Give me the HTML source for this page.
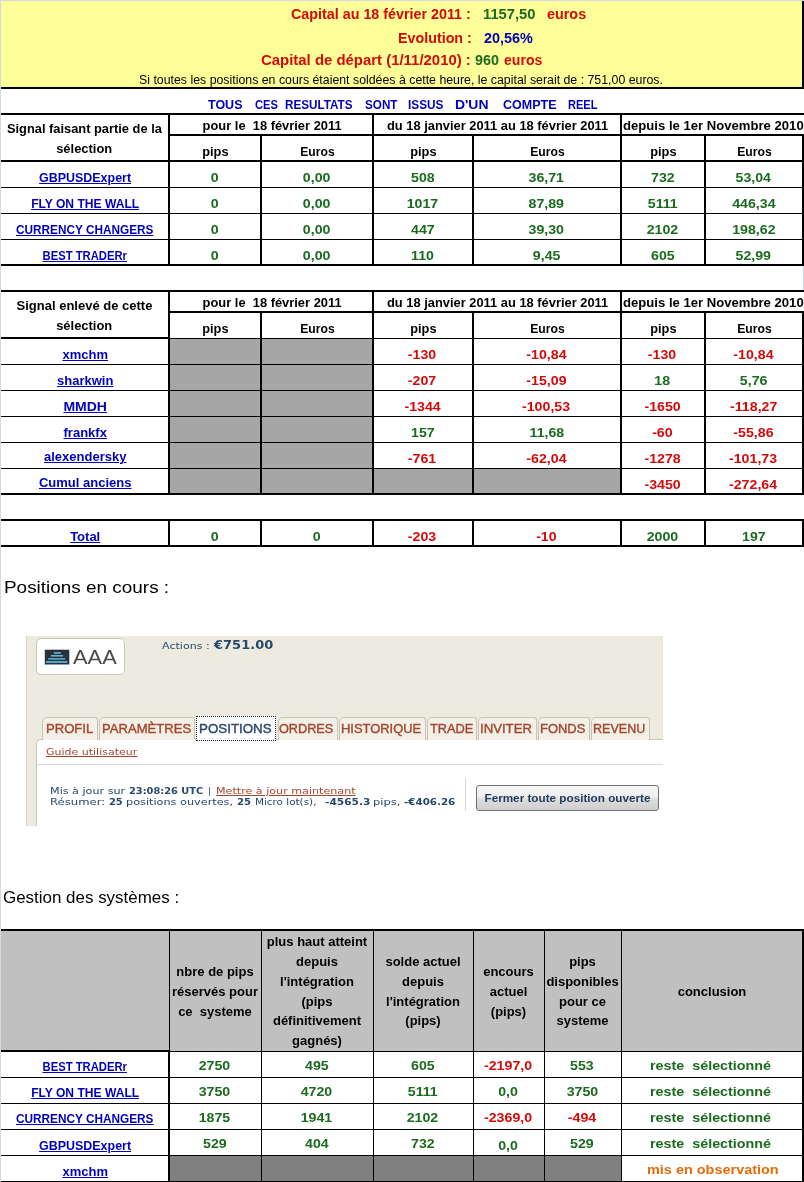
<!DOCTYPE html>
<html lang="fr"><head><meta charset="utf-8"><title>Résultats signaux</title>
<style>
html,body{margin:0;padding:0;background:#fff}
#pg{position:relative;width:804px;height:1182px;overflow:hidden;background:#fff}
#pg i{position:absolute;display:block}
#pg b,#pg a,#pg span.t{position:absolute;white-space:pre;display:block;font-style:normal}
</style></head><body><div id="pg">
<i style="left:0px;top:0px;width:804px;height:1px;background:#D0D7E5"></i>
<i style="left:0px;top:0px;width:1px;height:1182px;background:#D0D7E5"></i>
<i style="left:803px;top:266px;width:1px;height:24px;background:#D0D7E5"></i>
<i style="left:1px;top:1px;width:801px;height:86px;background:#FFFF99"></i>
<i style="left:1px;top:87px;width:803px;height:2px;background:#000"></i>
<i style="left:802px;top:1px;width:2px;height:88px;background:#000"></i>
<i style="left:1px;top:113px;width:803px;height:2px;background:#000"></i>
<i style="left:168px;top:134px;width:636px;height:2px;background:#000"></i>
<i style="left:1px;top:160px;width:803px;height:2px;background:#000"></i>
<i style="left:1px;top:187px;width:803px;height:1px;background:#000"></i>
<i style="left:1px;top:213px;width:803px;height:1px;background:#000"></i>
<i style="left:1px;top:239px;width:803px;height:1px;background:#000"></i>
<i style="left:1px;top:264px;width:803px;height:2px;background:#000"></i>
<i style="left:168px;top:113px;width:2px;height:153px;background:#000"></i>
<i style="left:260px;top:134px;width:2px;height:132px;background:#000"></i>
<i style="left:372px;top:113px;width:2px;height:153px;background:#000"></i>
<i style="left:472px;top:134px;width:2px;height:132px;background:#000"></i>
<i style="left:620px;top:113px;width:2px;height:153px;background:#000"></i>
<i style="left:704px;top:134px;width:2px;height:132px;background:#000"></i>
<i style="left:802px;top:134px;width:2px;height:132px;background:#000"></i>
<i style="left:1px;top:290px;width:803px;height:2px;background:#000"></i>
<i style="left:168px;top:311px;width:636px;height:2px;background:#000"></i>
<i style="left:1px;top:337px;width:169px;height:2px;background:#000"></i>
<i style="left:170px;top:338px;width:634px;height:1px;background:#000"></i>
<i style="left:1px;top:364px;width:803px;height:1px;background:#000"></i>
<i style="left:1px;top:390px;width:803px;height:1px;background:#000"></i>
<i style="left:1px;top:416px;width:803px;height:1px;background:#000"></i>
<i style="left:1px;top:442px;width:803px;height:1px;background:#000"></i>
<i style="left:1px;top:468px;width:803px;height:1px;background:#000"></i>
<i style="left:1px;top:493px;width:803px;height:2px;background:#000"></i>
<i style="left:168px;top:290px;width:2px;height:205px;background:#000"></i>
<i style="left:260px;top:311px;width:2px;height:184px;background:#000"></i>
<i style="left:372px;top:290px;width:2px;height:205px;background:#000"></i>
<i style="left:472px;top:311px;width:2px;height:184px;background:#000"></i>
<i style="left:620px;top:290px;width:2px;height:205px;background:#000"></i>
<i style="left:704px;top:311px;width:2px;height:184px;background:#000"></i>
<i style="left:802px;top:311px;width:2px;height:184px;background:#000"></i>
<i style="left:170px;top:339px;width:90px;height:25px;background:#A6A6A6"></i>
<i style="left:262px;top:339px;width:110px;height:25px;background:#A6A6A6"></i>
<i style="left:170px;top:365px;width:90px;height:25px;background:#A6A6A6"></i>
<i style="left:262px;top:365px;width:110px;height:25px;background:#A6A6A6"></i>
<i style="left:170px;top:391px;width:90px;height:25px;background:#A6A6A6"></i>
<i style="left:262px;top:391px;width:110px;height:25px;background:#A6A6A6"></i>
<i style="left:170px;top:417px;width:90px;height:25px;background:#A6A6A6"></i>
<i style="left:262px;top:417px;width:110px;height:25px;background:#A6A6A6"></i>
<i style="left:170px;top:443px;width:90px;height:25px;background:#A6A6A6"></i>
<i style="left:262px;top:443px;width:110px;height:25px;background:#A6A6A6"></i>
<i style="left:170px;top:469px;width:90px;height:24px;background:#A6A6A6"></i>
<i style="left:262px;top:469px;width:110px;height:24px;background:#A6A6A6"></i>
<i style="left:374px;top:469px;width:98px;height:24px;background:#A6A6A6"></i>
<i style="left:474px;top:469px;width:146px;height:24px;background:#A6A6A6"></i>
<i style="left:1px;top:519px;width:803px;height:2px;background:#000"></i>
<i style="left:1px;top:545px;width:803px;height:2px;background:#000"></i>
<i style="left:168px;top:519px;width:2px;height:28px;background:#000"></i>
<i style="left:260px;top:519px;width:2px;height:28px;background:#000"></i>
<i style="left:372px;top:519px;width:2px;height:28px;background:#000"></i>
<i style="left:472px;top:519px;width:2px;height:28px;background:#000"></i>
<i style="left:620px;top:519px;width:2px;height:28px;background:#000"></i>
<i style="left:704px;top:519px;width:2px;height:28px;background:#000"></i>
<i style="left:802px;top:519px;width:2px;height:28px;background:#000"></i>
<i style="left:1px;top:931px;width:801px;height:120px;background:#C0C0C0"></i>
<i style="left:1px;top:929px;width:803px;height:2px;background:#000"></i>
<i style="left:1px;top:1050px;width:169px;height:2px;background:#000"></i>
<i style="left:170px;top:1051px;width:634px;height:1px;background:#000"></i>
<i style="left:1px;top:1077px;width:803px;height:1px;background:#000"></i>
<i style="left:1px;top:1103px;width:803px;height:1px;background:#000"></i>
<i style="left:1px;top:1129px;width:803px;height:1px;background:#000"></i>
<i style="left:1px;top:1155px;width:803px;height:1px;background:#000"></i>
<i style="left:1px;top:1181px;width:803px;height:1px;background:#000"></i>
<i style="left:170px;top:1156px;width:91px;height:25px;background:#808080"></i>
<i style="left:262px;top:1156px;width:111px;height:25px;background:#808080"></i>
<i style="left:374px;top:1156px;width:99px;height:25px;background:#808080"></i>
<i style="left:474px;top:1156px;width:70px;height:25px;background:#808080"></i>
<i style="left:545px;top:1156px;width:76px;height:25px;background:#808080"></i>
<i style="left:169px;top:931px;width:1px;height:119px;background:#000"></i>
<i style="left:168px;top:1050px;width:2px;height:132px;background:#000"></i>
<i style="left:261px;top:931px;width:1px;height:251px;background:#000"></i>
<i style="left:373px;top:931px;width:1px;height:251px;background:#000"></i>
<i style="left:473px;top:931px;width:1px;height:251px;background:#000"></i>
<i style="left:544px;top:931px;width:1px;height:251px;background:#000"></i>
<i style="left:621px;top:931px;width:1px;height:251px;background:#000"></i>
<i style="left:802px;top:929px;width:2px;height:253px;background:#000"></i>
<div style="position:absolute;left:26px;top:636px;width:637px;height:104px;background:#EDEBE0"></div>
<div style="position:absolute;left:26px;top:636px;width:1px;height:190px;background:#D9D6C8"></div>
<div style="position:absolute;left:27px;top:740px;width:10px;height:86px;background:#EDEBE0"></div>
<div style="position:absolute;left:36px;top:638px;width:87px;height:35px;background:#fff;border:1px solid #C9C6B6;border-radius:5px"></div>
<svg style="position:absolute;left:44px;top:649px" width="27" height="17" viewBox="0 0 27 17"><rect x="0.8" y="0.7" width="24.5" height="14.8" fill="#2B3138"/><rect x="9.8" y="3.2" width="7.1" height="1.5" fill="#6FC0E6"/><rect x="6.9" y="6.0" width="12.2" height="1.6" fill="#62B5DD"/><rect x="4.2" y="9.1" width="17.1" height="1.6" fill="#5AAED8"/><rect x="1.9" y="12.0" width="21.5" height="1.9" fill="#58ABD5"/></svg>
<div style="position:absolute;left:36px;top:739px;width:626px;height:86px;background:#fff;border:1px solid #C9C6B6;border-right:none;border-bottom:none;border-radius:5px 0 0 0"></div>
<div style="position:absolute;left:37px;top:764px;width:626px;height:1px;background:#D8D8D8"></div>
<div style="position:absolute;left:465px;top:778px;width:1px;height:33px;background:#D8D8D8"></div>
<div style="position:absolute;left:42px;top:717px;width:53.6px;height:22px;background:#F2F0E7;border:1px solid #C9C6B6;border-bottom:none;border-radius:5px 3px 0 0"></div>
<div style="position:absolute;left:98.8px;top:717px;width:94.2px;height:22px;background:#F2F0E7;border:1px solid #C9C6B6;border-bottom:none;border-radius:5px 3px 0 0"></div>
<div style="position:absolute;left:195.5px;top:716px;width:78.5px;height:23px;background:#fff;border:1px dotted #1E2F45"></div>
<div style="position:absolute;left:277.5px;top:717px;width:58.2px;height:22px;background:#F2F0E7;border:1px solid #C9C6B6;border-bottom:none;border-radius:5px 3px 0 0"></div>
<div style="position:absolute;left:338.7px;top:717px;width:85.1px;height:22px;background:#F2F0E7;border:1px solid #C9C6B6;border-bottom:none;border-radius:5px 3px 0 0"></div>
<div style="position:absolute;left:427px;top:717px;width:47.8px;height:22px;background:#F2F0E7;border:1px solid #C9C6B6;border-bottom:none;border-radius:5px 3px 0 0"></div>
<div style="position:absolute;left:478px;top:717px;width:56.7px;height:22px;background:#F2F0E7;border:1px solid #C9C6B6;border-bottom:none;border-radius:5px 3px 0 0"></div>
<div style="position:absolute;left:537.9px;top:717px;width:50.0px;height:22px;background:#F2F0E7;border:1px solid #C9C6B6;border-bottom:none;border-radius:5px 3px 0 0"></div>
<div style="position:absolute;left:591.1px;top:717px;width:57.2px;height:22px;background:#F2F0E7;border:1px solid #C9C6B6;border-bottom:none;border-radius:5px 3px 0 0"></div>
<div style="position:absolute;left:476px;top:785px;width:181px;height:24px;border:1px solid #707070;border-radius:3px;background:linear-gradient(#F7F7F7 0%,#EDEDED 45%,#DCDCDC 55%,#CFCFCF 100%)"></div>
<span class="t" style="font:bold 14px/14px 'Liberation Sans', sans-serif;color:#D40A0A;top:6.95px;left:290.52px;transform:scaleX(1.0224);transform-origin:0 50%">Capital au 18 février 2011 :</span>
<span class="t" style="font:bold 14px/14px 'Liberation Sans', sans-serif;color:#1A6B1E;top:6.95px;left:483.22px;transform:scaleX(1.0537);transform-origin:0 50%">1157,50</span>
<span class="t" style="font:bold 14px/14px 'Liberation Sans', sans-serif;color:#D40A0A;top:6.95px;left:546.52px;transform:scaleX(1.0261);transform-origin:0 50%">euros</span>
<span class="t" style="font:bold 14px/14px 'Liberation Sans', sans-serif;color:#D40A0A;top:31.15px;left:397.52px;transform:scaleX(1.0206);transform-origin:0 50%">Evolution :</span>
<span class="t" style="font:bold 14px/14px 'Liberation Sans', sans-serif;color:#0000BB;top:31.15px;left:484.42px;transform:scaleX(1.0302);transform-origin:0 50%">20,56%</span>
<span class="t" style="font:bold 14px/14px 'Liberation Sans', sans-serif;color:#D40A0A;top:53.35px;left:261.02px;transform:scaleX(1.0658);transform-origin:0 50%">Capital de départ (1/11/2010) :</span>
<span class="t" style="font:bold 14px/14px 'Liberation Sans', sans-serif;color:#1A6B1E;top:53.35px;left:475.42px;transform:scaleX(1.0240);transform-origin:0 50%">960</span>
<span class="t" style="font:bold 14px/14px 'Liberation Sans', sans-serif;color:#D40A0A;top:53.35px;left:504.02px;transform:scaleX(1.0051);transform-origin:0 50%">euros</span>
<span class="t" style="font:normal 12px/12px 'Liberation Sans', sans-serif;color:#000;top:73.84px;left:139.16px;transform:scaleX(1.0281);transform-origin:0 50%">Si toutes les positions en cours étaient soldées à cette heure, le capital serait de : 751,00 euros.</span>
<span class="t" style="font:bold 13px/13px 'Liberation Sans', sans-serif;color:#0000BB;top:97.80px;left:208.29px;transform:scaleX(0.9610);transform-origin:0 50%">TOUS</span>
<span class="t" style="font:bold 13px/13px 'Liberation Sans', sans-serif;color:#0000BB;top:97.80px;left:254.79px;transform:scaleX(0.8599);transform-origin:0 50%">CES</span>
<span class="t" style="font:bold 13px/13px 'Liberation Sans', sans-serif;color:#0000BB;top:97.80px;left:285.29px;transform:scaleX(0.8986);transform-origin:0 50%">RESULTATS</span>
<span class="t" style="font:bold 13px/13px 'Liberation Sans', sans-serif;color:#0000BB;top:97.80px;left:365.29px;transform:scaleX(0.8994);transform-origin:0 50%">SONT</span>
<span class="t" style="font:bold 13px/13px 'Liberation Sans', sans-serif;color:#0000BB;top:97.80px;left:408.29px;transform:scaleX(0.9096);transform-origin:0 50%">ISSUS</span>
<span class="t" style="font:bold 13px/13px 'Liberation Sans', sans-serif;color:#0000BB;top:97.80px;left:455.29px;transform:scaleX(1.0711);transform-origin:0 50%">D&#x27;UN</span>
<span class="t" style="font:bold 13px/13px 'Liberation Sans', sans-serif;color:#0000BB;top:97.80px;left:503.29px;transform:scaleX(0.9616);transform-origin:0 50%">COMPTE</span>
<span class="t" style="font:bold 13px/13px 'Liberation Sans', sans-serif;color:#0000BB;top:97.80px;left:568.29px;transform:scaleX(0.8505);transform-origin:0 50%">REEL</span>
<span class="t" style="font:bold 13px/13px 'Liberation Sans', sans-serif;color:#000;top:122.00px;left:6.11px;transform:scaleX(0.9886);transform-origin:50% 50%">Signal faisant partie de la</span>
<span class="t" style="font:bold 13px/13px 'Liberation Sans', sans-serif;color:#000;top:142.00px;left:56.32px;transform:scaleX(0.9936);transform-origin:50% 50%">sélection</span>
<span class="t" style="font:bold 13px/13px 'Liberation Sans', sans-serif;color:#000;top:119.40px;left:201.80px;transform:scaleX(0.9914);transform-origin:50% 50%">pour le  18 février 2011</span>
<span class="t" style="font:bold 13px/13px 'Liberation Sans', sans-serif;color:#000;top:119.40px;left:386.89px;transform:scaleX(0.9904);transform-origin:0 50%">du 18 janvier 2011 au 18 février 2011</span>
<span class="t" style="font:bold 13px/13px 'Liberation Sans', sans-serif;color:#000;top:119.40px;left:623.49px;transform:scaleX(1.0083);transform-origin:0 50%">depuis le 1er Novembre 2010</span>
<span class="t" style="font:bold 13px/13px 'Liberation Sans', sans-serif;color:#000;top:145.00px;left:202.03px;transform:scaleX(0.9838);transform-origin:50% 50%">pips</span>
<span class="t" style="font:bold 13px/13px 'Liberation Sans', sans-serif;color:#000;top:145.00px;left:298.98px;transform:scaleX(0.9364);transform-origin:50% 50%">Euros</span>
<span class="t" style="font:bold 13px/13px 'Liberation Sans', sans-serif;color:#000;top:145.00px;left:410.03px;transform:scaleX(0.9838);transform-origin:50% 50%">pips</span>
<span class="t" style="font:bold 13px/13px 'Liberation Sans', sans-serif;color:#000;top:145.00px;left:528.98px;transform:scaleX(0.9364);transform-origin:50% 50%">Euros</span>
<span class="t" style="font:bold 13px/13px 'Liberation Sans', sans-serif;color:#000;top:145.00px;left:650.03px;transform:scaleX(0.9838);transform-origin:50% 50%">pips</span>
<span class="t" style="font:bold 13px/13px 'Liberation Sans', sans-serif;color:#000;top:145.00px;left:735.98px;transform:scaleX(0.9364);transform-origin:50% 50%">Euros</span>
<a style="font:bold 13px/13px 'Liberation Sans', sans-serif;color:#0000BB;top:170.60px;text-decoration:underline;left:37.16px;transform:scaleX(0.9576);transform-origin:50% 50%">GBPUSDExpert</a>
<span class="t" style="font:bold 13px/13px 'Liberation Sans', sans-serif;color:#1A6B1E;top:170.60px;left:210.88px;transform:scaleX(1.0900);transform-origin:50% 50%">0</span>
<span class="t" style="font:bold 13px/13px 'Liberation Sans', sans-serif;color:#1A6B1E;top:170.60px;left:303.84px;transform:scaleX(1.0900);transform-origin:50% 50%">0,00</span>
<span class="t" style="font:bold 13px/13px 'Liberation Sans', sans-serif;color:#1A6B1E;top:170.60px;left:411.65px;transform:scaleX(1.0900);transform-origin:50% 50%">508</span>
<span class="t" style="font:bold 13px/13px 'Liberation Sans', sans-serif;color:#1A6B1E;top:170.60px;left:530.23px;transform:scaleX(1.0900);transform-origin:50% 50%">36,71</span>
<span class="t" style="font:bold 13px/13px 'Liberation Sans', sans-serif;color:#1A6B1E;top:170.60px;left:651.65px;transform:scaleX(1.0900);transform-origin:50% 50%">732</span>
<span class="t" style="font:bold 13px/13px 'Liberation Sans', sans-serif;color:#1A6B1E;top:170.60px;left:737.23px;transform:scaleX(1.0900);transform-origin:50% 50%">53,04</span>
<a style="font:bold 13px/13px 'Liberation Sans', sans-serif;color:#0000BB;top:196.60px;text-decoration:underline;left:27.05px;transform:scaleX(0.9287);transform-origin:50% 50%">FLY ON THE WALL</a>
<span class="t" style="font:bold 13px/13px 'Liberation Sans', sans-serif;color:#1A6B1E;top:196.60px;left:210.88px;transform:scaleX(1.0900);transform-origin:50% 50%">0</span>
<span class="t" style="font:bold 13px/13px 'Liberation Sans', sans-serif;color:#1A6B1E;top:196.60px;left:303.84px;transform:scaleX(1.0900);transform-origin:50% 50%">0,00</span>
<span class="t" style="font:bold 13px/13px 'Liberation Sans', sans-serif;color:#1A6B1E;top:196.60px;left:408.04px;transform:scaleX(1.0900);transform-origin:50% 50%">1017</span>
<span class="t" style="font:bold 13px/13px 'Liberation Sans', sans-serif;color:#1A6B1E;top:196.60px;left:530.23px;transform:scaleX(1.0900);transform-origin:50% 50%">87,89</span>
<span class="t" style="font:bold 13px/13px 'Liberation Sans', sans-serif;color:#1A6B1E;top:196.60px;left:648.75px;transform:scaleX(1.0900);transform-origin:50% 50%">5111</span>
<span class="t" style="font:bold 13px/13px 'Liberation Sans', sans-serif;color:#1A6B1E;top:196.60px;left:733.62px;transform:scaleX(1.0900);transform-origin:50% 50%">446,34</span>
<a style="font:bold 13px/13px 'Liberation Sans', sans-serif;color:#0000BB;top:222.60px;text-decoration:underline;left:9.47px;transform:scaleX(0.9079);transform-origin:50% 50%">CURRENCY CHANGERS</a>
<span class="t" style="font:bold 13px/13px 'Liberation Sans', sans-serif;color:#1A6B1E;top:222.60px;left:210.88px;transform:scaleX(1.0900);transform-origin:50% 50%">0</span>
<span class="t" style="font:bold 13px/13px 'Liberation Sans', sans-serif;color:#1A6B1E;top:222.60px;left:303.84px;transform:scaleX(1.0900);transform-origin:50% 50%">0,00</span>
<span class="t" style="font:bold 13px/13px 'Liberation Sans', sans-serif;color:#1A6B1E;top:222.60px;left:411.65px;transform:scaleX(1.0900);transform-origin:50% 50%">447</span>
<span class="t" style="font:bold 13px/13px 'Liberation Sans', sans-serif;color:#1A6B1E;top:222.60px;left:530.23px;transform:scaleX(1.0900);transform-origin:50% 50%">39,30</span>
<span class="t" style="font:bold 13px/13px 'Liberation Sans', sans-serif;color:#1A6B1E;top:222.60px;left:648.04px;transform:scaleX(1.0900);transform-origin:50% 50%">2102</span>
<span class="t" style="font:bold 13px/13px 'Liberation Sans', sans-serif;color:#1A6B1E;top:222.60px;left:733.62px;transform:scaleX(1.0900);transform-origin:50% 50%">198,62</span>
<a style="font:bold 13px/13px 'Liberation Sans', sans-serif;color:#0000BB;top:248.60px;text-decoration:underline;left:36.44px;transform:scaleX(0.8665);transform-origin:50% 50%">BEST TRADERr</a>
<span class="t" style="font:bold 13px/13px 'Liberation Sans', sans-serif;color:#1A6B1E;top:248.60px;left:210.88px;transform:scaleX(1.0900);transform-origin:50% 50%">0</span>
<span class="t" style="font:bold 13px/13px 'Liberation Sans', sans-serif;color:#1A6B1E;top:248.60px;left:303.84px;transform:scaleX(1.0900);transform-origin:50% 50%">0,00</span>
<span class="t" style="font:bold 13px/13px 'Liberation Sans', sans-serif;color:#1A6B1E;top:248.60px;left:412.01px;transform:scaleX(1.0900);transform-origin:50% 50%">110</span>
<span class="t" style="font:bold 13px/13px 'Liberation Sans', sans-serif;color:#1A6B1E;top:248.60px;left:533.84px;transform:scaleX(1.0900);transform-origin:50% 50%">9,45</span>
<span class="t" style="font:bold 13px/13px 'Liberation Sans', sans-serif;color:#1A6B1E;top:248.60px;left:651.65px;transform:scaleX(1.0900);transform-origin:50% 50%">605</span>
<span class="t" style="font:bold 13px/13px 'Liberation Sans', sans-serif;color:#1A6B1E;top:248.60px;left:737.23px;transform:scaleX(1.0900);transform-origin:50% 50%">52,99</span>
<span class="t" style="font:bold 13px/13px 'Liberation Sans', sans-serif;color:#000;top:299.00px;left:16.58px">Signal enlevé de cette</span>
<span class="t" style="font:bold 13px/13px 'Liberation Sans', sans-serif;color:#000;top:319.00px;left:56.32px;transform:scaleX(0.9936);transform-origin:50% 50%">sélection</span>
<span class="t" style="font:bold 13px/13px 'Liberation Sans', sans-serif;color:#000;top:296.40px;left:201.80px;transform:scaleX(0.9914);transform-origin:50% 50%">pour le  18 février 2011</span>
<span class="t" style="font:bold 13px/13px 'Liberation Sans', sans-serif;color:#000;top:296.40px;left:386.89px;transform:scaleX(0.9904);transform-origin:0 50%">du 18 janvier 2011 au 18 février 2011</span>
<span class="t" style="font:bold 13px/13px 'Liberation Sans', sans-serif;color:#000;top:296.40px;left:623.49px;transform:scaleX(1.0083);transform-origin:0 50%">depuis le 1er Novembre 2010</span>
<span class="t" style="font:bold 13px/13px 'Liberation Sans', sans-serif;color:#000;top:322.00px;left:202.03px;transform:scaleX(0.9838);transform-origin:50% 50%">pips</span>
<span class="t" style="font:bold 13px/13px 'Liberation Sans', sans-serif;color:#000;top:322.00px;left:298.98px;transform:scaleX(0.9364);transform-origin:50% 50%">Euros</span>
<span class="t" style="font:bold 13px/13px 'Liberation Sans', sans-serif;color:#000;top:322.00px;left:410.03px;transform:scaleX(0.9838);transform-origin:50% 50%">pips</span>
<span class="t" style="font:bold 13px/13px 'Liberation Sans', sans-serif;color:#000;top:322.00px;left:528.98px;transform:scaleX(0.9364);transform-origin:50% 50%">Euros</span>
<span class="t" style="font:bold 13px/13px 'Liberation Sans', sans-serif;color:#000;top:322.00px;left:650.03px;transform:scaleX(0.9838);transform-origin:50% 50%">pips</span>
<span class="t" style="font:bold 13px/13px 'Liberation Sans', sans-serif;color:#000;top:322.00px;left:735.98px;transform:scaleX(0.9364);transform-origin:50% 50%">Euros</span>
<a style="font:bold 13px/13px 'Liberation Sans', sans-serif;color:#0000BB;top:347.60px;text-decoration:underline;left:62.43px">xmchm</a>
<span class="t" style="font:bold 13px/13px 'Liberation Sans', sans-serif;color:#D40A0A;top:347.60px;left:409.48px;transform:scaleX(1.0900);transform-origin:50% 50%">-130</span>
<span class="t" style="font:bold 13px/13px 'Liberation Sans', sans-serif;color:#D40A0A;top:347.60px;left:528.06px;transform:scaleX(1.0900);transform-origin:50% 50%">-10,84</span>
<span class="t" style="font:bold 13px/13px 'Liberation Sans', sans-serif;color:#D40A0A;top:347.60px;left:649.48px;transform:scaleX(1.0900);transform-origin:50% 50%">-130</span>
<span class="t" style="font:bold 13px/13px 'Liberation Sans', sans-serif;color:#D40A0A;top:347.60px;left:735.06px;transform:scaleX(1.0900);transform-origin:50% 50%">-10,84</span>
<a style="font:bold 13px/13px 'Liberation Sans', sans-serif;color:#0000BB;top:373.60px;text-decoration:underline;left:57.02px">sharkwin</a>
<span class="t" style="font:bold 13px/13px 'Liberation Sans', sans-serif;color:#D40A0A;top:373.60px;left:409.48px;transform:scaleX(1.0900);transform-origin:50% 50%">-207</span>
<span class="t" style="font:bold 13px/13px 'Liberation Sans', sans-serif;color:#D40A0A;top:373.60px;left:528.06px;transform:scaleX(1.0900);transform-origin:50% 50%">-15,09</span>
<span class="t" style="font:bold 13px/13px 'Liberation Sans', sans-serif;color:#1A6B1E;top:373.60px;left:655.27px;transform:scaleX(1.0900);transform-origin:50% 50%">18</span>
<span class="t" style="font:bold 13px/13px 'Liberation Sans', sans-serif;color:#1A6B1E;top:373.60px;left:740.84px;transform:scaleX(1.0900);transform-origin:50% 50%">5,76</span>
<a style="font:bold 13px/13px 'Liberation Sans', sans-serif;color:#0000BB;top:399.60px;text-decoration:underline;left:64.98px;transform:scaleX(1.0757);transform-origin:50% 50%">MMDH</a>
<span class="t" style="font:bold 13px/13px 'Liberation Sans', sans-serif;color:#D40A0A;top:399.60px;left:405.88px;transform:scaleX(1.0900);transform-origin:50% 50%">-1344</span>
<span class="t" style="font:bold 13px/13px 'Liberation Sans', sans-serif;color:#D40A0A;top:399.60px;left:524.45px;transform:scaleX(1.0900);transform-origin:50% 50%">-100,53</span>
<span class="t" style="font:bold 13px/13px 'Liberation Sans', sans-serif;color:#D40A0A;top:399.60px;left:645.88px;transform:scaleX(1.0900);transform-origin:50% 50%">-1650</span>
<span class="t" style="font:bold 13px/13px 'Liberation Sans', sans-serif;color:#D40A0A;top:399.60px;left:731.81px;transform:scaleX(1.0900);transform-origin:50% 50%">-118,27</span>
<a style="font:bold 13px/13px 'Liberation Sans', sans-serif;color:#0000BB;top:425.60px;text-decoration:underline;left:63.52px">frankfx</a>
<span class="t" style="font:bold 13px/13px 'Liberation Sans', sans-serif;color:#1A6B1E;top:425.60px;left:411.65px;transform:scaleX(1.0900);transform-origin:50% 50%">157</span>
<span class="t" style="font:bold 13px/13px 'Liberation Sans', sans-serif;color:#1A6B1E;top:425.60px;left:530.59px;transform:scaleX(1.0900);transform-origin:50% 50%">11,68</span>
<span class="t" style="font:bold 13px/13px 'Liberation Sans', sans-serif;color:#D40A0A;top:425.60px;left:653.10px;transform:scaleX(1.0900);transform-origin:50% 50%">-60</span>
<span class="t" style="font:bold 13px/13px 'Liberation Sans', sans-serif;color:#D40A0A;top:425.60px;left:735.06px;transform:scaleX(1.0900);transform-origin:50% 50%">-55,86</span>
<a style="font:bold 13px/13px 'Liberation Sans', sans-serif;color:#0000BB;top:449.80px;text-decoration:underline;left:44.00px">alexendersky</a>
<span class="t" style="font:bold 13px/13px 'Liberation Sans', sans-serif;color:#D40A0A;top:451.60px;left:409.48px;transform:scaleX(1.0900);transform-origin:50% 50%">-761</span>
<span class="t" style="font:bold 13px/13px 'Liberation Sans', sans-serif;color:#D40A0A;top:451.60px;left:528.06px;transform:scaleX(1.0900);transform-origin:50% 50%">-62,04</span>
<span class="t" style="font:bold 13px/13px 'Liberation Sans', sans-serif;color:#D40A0A;top:451.60px;left:645.88px;transform:scaleX(1.0900);transform-origin:50% 50%">-1278</span>
<span class="t" style="font:bold 13px/13px 'Liberation Sans', sans-serif;color:#D40A0A;top:451.60px;left:731.45px;transform:scaleX(1.0900);transform-origin:50% 50%">-101,73</span>
<a style="font:bold 13px/13px 'Liberation Sans', sans-serif;color:#0000BB;top:475.80px;text-decoration:underline;left:38.97px">Cumul anciens</a>
<span class="t" style="font:bold 13px/13px 'Liberation Sans', sans-serif;color:#D40A0A;top:477.60px;left:645.88px;transform:scaleX(1.0900);transform-origin:50% 50%">-3450</span>
<span class="t" style="font:bold 13px/13px 'Liberation Sans', sans-serif;color:#D40A0A;top:477.60px;left:731.45px;transform:scaleX(1.0900);transform-origin:50% 50%">-272,64</span>
<a style="font:bold 13px/13px 'Liberation Sans', sans-serif;color:#0000BB;top:530.00px;text-decoration:underline;left:70.15px">Total</a>
<span class="t" style="font:bold 13px/13px 'Liberation Sans', sans-serif;color:#1A6B1E;top:530.00px;left:210.88px;transform:scaleX(1.0900);transform-origin:50% 50%">0</span>
<span class="t" style="font:bold 13px/13px 'Liberation Sans', sans-serif;color:#1A6B1E;top:530.00px;left:312.88px;transform:scaleX(1.0900);transform-origin:50% 50%">0</span>
<span class="t" style="font:bold 13px/13px 'Liberation Sans', sans-serif;color:#D40A0A;top:530.00px;left:409.48px;transform:scaleX(1.0900);transform-origin:50% 50%">-203</span>
<span class="t" style="font:bold 13px/13px 'Liberation Sans', sans-serif;color:#D40A0A;top:530.00px;left:537.10px;transform:scaleX(1.0900);transform-origin:50% 50%">-10</span>
<span class="t" style="font:bold 13px/13px 'Liberation Sans', sans-serif;color:#1A6B1E;top:530.00px;left:648.04px;transform:scaleX(1.0900);transform-origin:50% 50%">2000</span>
<span class="t" style="font:bold 13px/13px 'Liberation Sans', sans-serif;color:#1A6B1E;top:530.00px;left:742.65px;transform:scaleX(1.0900);transform-origin:50% 50%">197</span>
<span class="t" style="font:normal 16.5px/16.5px 'Liberation Sans', sans-serif;color:#000;top:579.13px;left:3.84px;transform:scaleX(1.1468);transform-origin:0 50%">Positions en cours :</span>
<span class="t" style="font:normal 16.5px/16.5px 'Liberation Sans', sans-serif;color:#000;top:889.13px;left:3.34px;transform:scaleX(1.0271);transform-origin:0 50%">Gestion des systèmes :</span>
<span class="t" style="font:bold 13px/13px 'Liberation Sans', sans-serif;color:#000;top:964.90px;left:176.35px">nbre de pips</span>
<span class="t" style="font:bold 13px/13px 'Liberation Sans', sans-serif;color:#000;top:984.70px;left:172.00px">réservés pour</span>
<span class="t" style="font:bold 13px/13px 'Liberation Sans', sans-serif;color:#000;top:1004.50px;left:178.13px">ce  systeme</span>
<span class="t" style="font:bold 13px/13px 'Liberation Sans', sans-serif;color:#000;top:935.20px;left:266.80px">plus haut atteint</span>
<span class="t" style="font:bold 13px/13px 'Liberation Sans', sans-serif;color:#000;top:955.00px;left:296.05px">depuis</span>
<span class="t" style="font:bold 13px/13px 'Liberation Sans', sans-serif;color:#000;top:974.80px;left:280.06px">l&#x27;intégration</span>
<span class="t" style="font:bold 13px/13px 'Liberation Sans', sans-serif;color:#000;top:994.60px;left:301.47px">(pips</span>
<span class="t" style="font:bold 13px/13px 'Liberation Sans', sans-serif;color:#000;top:1014.40px;left:272.94px">définitivement</span>
<span class="t" style="font:bold 13px/13px 'Liberation Sans', sans-serif;color:#000;top:1034.20px;left:292.08px">gagnés)</span>
<span class="t" style="font:bold 13px/13px 'Liberation Sans', sans-serif;color:#000;top:955.00px;left:385.43px">solde actuel</span>
<span class="t" style="font:bold 13px/13px 'Liberation Sans', sans-serif;color:#000;top:974.80px;left:402.05px">depuis</span>
<span class="t" style="font:bold 13px/13px 'Liberation Sans', sans-serif;color:#000;top:994.60px;left:386.06px">l&#x27;intégration</span>
<span class="t" style="font:bold 13px/13px 'Liberation Sans', sans-serif;color:#000;top:1014.40px;left:405.30px">(pips)</span>
<span class="t" style="font:bold 13px/13px 'Liberation Sans', sans-serif;color:#000;top:964.90px;left:483.21px">encours</span>
<span class="t" style="font:bold 13px/13px 'Liberation Sans', sans-serif;color:#000;top:984.70px;left:489.71px">actuel</span>
<span class="t" style="font:bold 13px/13px 'Liberation Sans', sans-serif;color:#000;top:1004.50px;left:490.80px">(pips)</span>
<span class="t" style="font:bold 13px/13px 'Liberation Sans', sans-serif;color:#000;top:955.00px;left:569.13px">pips</span>
<span class="t" style="font:bold 13px/13px 'Liberation Sans', sans-serif;color:#000;top:974.80px;left:546.38px">disponibles</span>
<span class="t" style="font:bold 13px/13px 'Liberation Sans', sans-serif;color:#000;top:994.60px;left:559.02px">pour ce</span>
<span class="t" style="font:bold 13px/13px 'Liberation Sans', sans-serif;color:#000;top:1014.40px;left:556.48px">systeme</span>
<span class="t" style="font:bold 13px/13px 'Liberation Sans', sans-serif;color:#000;top:984.70px;left:677.69px">conclusion</span>
<a style="font:bold 13px/13px 'Liberation Sans', sans-serif;color:#0000BB;top:1059.50px;text-decoration:underline;left:36.44px;transform:scaleX(0.8665);transform-origin:50% 50%">BEST TRADERr</a>
<span class="t" style="font:bold 13px/13px 'Liberation Sans', sans-serif;color:#1A6B1E;top:1058.70px;left:200.04px;transform:scaleX(1.0900);transform-origin:50% 50%">2750</span>
<span class="t" style="font:bold 13px/13px 'Liberation Sans', sans-serif;color:#1A6B1E;top:1058.70px;left:305.65px;transform:scaleX(1.0900);transform-origin:50% 50%">495</span>
<span class="t" style="font:bold 13px/13px 'Liberation Sans', sans-serif;color:#1A6B1E;top:1058.70px;left:411.65px;transform:scaleX(1.0900);transform-origin:50% 50%">605</span>
<span class="t" style="font:bold 13px/13px 'Liberation Sans', sans-serif;color:#D40A0A;top:1058.70px;left:485.95px;transform:scaleX(1.0900);transform-origin:50% 50%">-2197,0</span>
<span class="t" style="font:bold 13px/13px 'Liberation Sans', sans-serif;color:#1A6B1E;top:1058.70px;left:571.15px;transform:scaleX(1.0900);transform-origin:50% 50%">553</span>
<span class="t" style="font:bold 13px/13px 'Liberation Sans', sans-serif;color:#1A6B1E;top:1058.50px;left:650.29px;transform:scaleX(1.1025);transform-origin:0 50%">reste  sélectionné</span>
<a style="font:bold 13px/13px 'Liberation Sans', sans-serif;color:#0000BB;top:1085.50px;text-decoration:underline;left:27.05px;transform:scaleX(0.9287);transform-origin:50% 50%">FLY ON THE WALL</a>
<span class="t" style="font:bold 13px/13px 'Liberation Sans', sans-serif;color:#1A6B1E;top:1084.70px;left:200.04px;transform:scaleX(1.0900);transform-origin:50% 50%">3750</span>
<span class="t" style="font:bold 13px/13px 'Liberation Sans', sans-serif;color:#1A6B1E;top:1084.70px;left:302.04px;transform:scaleX(1.0900);transform-origin:50% 50%">4720</span>
<span class="t" style="font:bold 13px/13px 'Liberation Sans', sans-serif;color:#1A6B1E;top:1084.70px;left:408.75px;transform:scaleX(1.0900);transform-origin:50% 50%">5111</span>
<span class="t" style="font:bold 13px/13px 'Liberation Sans', sans-serif;color:#1A6B1E;top:1085.00px;left:498.96px;transform:scaleX(1.0900);transform-origin:50% 50%">0,0</span>
<span class="t" style="font:bold 13px/13px 'Liberation Sans', sans-serif;color:#1A6B1E;top:1084.70px;left:567.54px;transform:scaleX(1.0900);transform-origin:50% 50%">3750</span>
<span class="t" style="font:bold 13px/13px 'Liberation Sans', sans-serif;color:#1A6B1E;top:1084.50px;left:650.29px;transform:scaleX(1.1025);transform-origin:0 50%">reste  sélectionné</span>
<a style="font:bold 13px/13px 'Liberation Sans', sans-serif;color:#0000BB;top:1111.50px;text-decoration:underline;left:9.47px;transform:scaleX(0.9079);transform-origin:50% 50%">CURRENCY CHANGERS</a>
<span class="t" style="font:bold 13px/13px 'Liberation Sans', sans-serif;color:#1A6B1E;top:1110.70px;left:200.04px;transform:scaleX(1.0900);transform-origin:50% 50%">1875</span>
<span class="t" style="font:bold 13px/13px 'Liberation Sans', sans-serif;color:#1A6B1E;top:1110.70px;left:302.04px;transform:scaleX(1.0900);transform-origin:50% 50%">1941</span>
<span class="t" style="font:bold 13px/13px 'Liberation Sans', sans-serif;color:#1A6B1E;top:1110.70px;left:408.04px;transform:scaleX(1.0900);transform-origin:50% 50%">2102</span>
<span class="t" style="font:bold 13px/13px 'Liberation Sans', sans-serif;color:#D40A0A;top:1110.70px;left:485.95px;transform:scaleX(1.0900);transform-origin:50% 50%">-2369,0</span>
<span class="t" style="font:bold 13px/13px 'Liberation Sans', sans-serif;color:#D40A0A;top:1110.70px;left:568.98px;transform:scaleX(1.0900);transform-origin:50% 50%">-494</span>
<span class="t" style="font:bold 13px/13px 'Liberation Sans', sans-serif;color:#1A6B1E;top:1110.50px;left:650.29px;transform:scaleX(1.1025);transform-origin:0 50%">reste  sélectionné</span>
<a style="font:bold 13px/13px 'Liberation Sans', sans-serif;color:#0000BB;top:1139.00px;text-decoration:underline;left:37.16px;transform:scaleX(0.9576);transform-origin:50% 50%">GBPUSDExpert</a>
<span class="t" style="font:bold 13px/13px 'Liberation Sans', sans-serif;color:#1A6B1E;top:1136.70px;left:203.65px;transform:scaleX(1.0900);transform-origin:50% 50%">529</span>
<span class="t" style="font:bold 13px/13px 'Liberation Sans', sans-serif;color:#1A6B1E;top:1136.70px;left:305.65px;transform:scaleX(1.0900);transform-origin:50% 50%">404</span>
<span class="t" style="font:bold 13px/13px 'Liberation Sans', sans-serif;color:#1A6B1E;top:1136.70px;left:411.65px;transform:scaleX(1.0900);transform-origin:50% 50%">732</span>
<span class="t" style="font:bold 13px/13px 'Liberation Sans', sans-serif;color:#1A6B1E;top:1138.80px;left:498.96px;transform:scaleX(1.0900);transform-origin:50% 50%">0,0</span>
<span class="t" style="font:bold 13px/13px 'Liberation Sans', sans-serif;color:#1A6B1E;top:1136.70px;left:571.15px;transform:scaleX(1.0900);transform-origin:50% 50%">529</span>
<span class="t" style="font:bold 13px/13px 'Liberation Sans', sans-serif;color:#1A6B1E;top:1136.50px;left:650.29px;transform:scaleX(1.1025);transform-origin:0 50%">reste  sélectionné</span>
<a style="font:bold 13px/13px 'Liberation Sans', sans-serif;color:#0000BB;top:1165.00px;text-decoration:underline;left:62.43px">xmchm</a>
<span class="t" style="font:bold 13px/13px 'Liberation Sans', sans-serif;color:#E36C0A;top:1162.50px;left:646.69px;transform:scaleX(1.1115);transform-origin:0 50%">mis en observation</span>
<span class="t" style="font:normal 13.5px/13.5px 'Liberation Sans', sans-serif;color:#A5452B;top:721.97px;left:45.55px;transform:scaleX(0.9690);transform-origin:0 50%;-webkit-text-stroke:0.4px currentColor">PROFIL</span>
<span class="t" style="font:normal 13.5px/13.5px 'Liberation Sans', sans-serif;color:#A5452B;top:721.97px;left:101.76px;transform:scaleX(0.9700);transform-origin:0 50%;-webkit-text-stroke:0.4px currentColor">PARAMÈTRES</span>
<span class="t" style="font:normal 13.5px/13.5px 'Liberation Sans', sans-serif;color:#27476B;top:721.97px;left:198.75px;transform:scaleX(0.9883);transform-origin:0 50%;-webkit-text-stroke:0.4px currentColor">POSITIONS</span>
<span class="t" style="font:normal 13.5px/13.5px 'Liberation Sans', sans-serif;color:#A5452B;top:721.97px;left:278.86px;transform:scaleX(0.9392);transform-origin:0 50%;-webkit-text-stroke:0.4px currentColor">ORDRES</span>
<span class="t" style="font:normal 13.5px/13.5px 'Liberation Sans', sans-serif;color:#A5452B;top:721.97px;left:341.45px;transform:scaleX(0.9569);transform-origin:0 50%;-webkit-text-stroke:0.4px currentColor">HISTORIQUE</span>
<span class="t" style="font:normal 13.5px/13.5px 'Liberation Sans', sans-serif;color:#A5452B;top:721.97px;left:429.75px;transform:scaleX(0.9473);transform-origin:0 50%;-webkit-text-stroke:0.4px currentColor">TRADE</span>
<span class="t" style="font:normal 13.5px/13.5px 'Liberation Sans', sans-serif;color:#A5452B;top:721.97px;left:480.25px;transform:scaleX(0.9754);transform-origin:0 50%;-webkit-text-stroke:0.4px currentColor">INVITER</span>
<span class="t" style="font:normal 13.5px/13.5px 'Liberation Sans', sans-serif;color:#A5452B;top:721.97px;left:539.95px;transform:scaleX(0.9578);transform-origin:0 50%;-webkit-text-stroke:0.4px currentColor">FONDS</span>
<span class="t" style="font:normal 13.5px/13.5px 'Liberation Sans', sans-serif;color:#A5452B;top:721.97px;left:592.65px;transform:scaleX(0.9287);transform-origin:0 50%;-webkit-text-stroke:0.4px currentColor">REVENU</span>
<span class="t" style="font:normal 19.5px/19.5px 'Liberation Sans', sans-serif;color:#4A4A4A;top:647.69px;left:72.84px;transform:scaleX(1.1205);transform-origin:0 50%">AAA</span>
<span class="t" style="font:normal 9.4px/9.4px 'DejaVu Sans', 'Liberation Sans', sans-serif;color:#27476B;top:641.25px;left:161.94px;transform:scaleX(1.1840);transform-origin:0 50%">Actions :</span>
<span class="t" style="font:bold 12.6px/12.6px 'DejaVu Sans', 'Liberation Sans', sans-serif;color:#27476B;top:638.54px;left:213.72px;transform:scaleX(1.0325);transform-origin:0 50%">€751.00</span>
<a style="font:normal 9px/9px 'DejaVu Sans', 'Liberation Sans', sans-serif;color:#A5452B;top:748.39px;text-decoration:underline;left:45.97px;transform:scaleX(1.2218);transform-origin:0 50%">Guide utilisateur</a>
<span class="t" style="font:normal 9px/9px 'DejaVu Sans', 'Liberation Sans', sans-serif;color:#27476B;top:786.69px;left:50.27px;transform:scaleX(1.2412);transform-origin:0 50%">Mis à jour sur</span>
<span class="t" style="font:bold 9px/9px 'DejaVu Sans', 'Liberation Sans', sans-serif;color:#27476B;top:786.69px;left:129.27px;transform:scaleX(1.0927);transform-origin:0 50%">23:08:26 UTC</span>
<span class="t" style="font:normal 9px/9px 'DejaVu Sans', 'Liberation Sans', sans-serif;color:#27476B;top:786.69px;left:208.00px">|</span>
<a style="font:normal 9px/9px 'DejaVu Sans', 'Liberation Sans', sans-serif;color:#A5452B;top:786.69px;text-decoration:underline;left:215.77px;transform:scaleX(1.2360);transform-origin:0 50%">Mettre à jour maintenant</a>
<span class="t" style="font:normal 9px/9px 'DejaVu Sans', 'Liberation Sans', sans-serif;color:#27476B;top:797.69px;left:50.27px;transform:scaleX(1.2929);transform-origin:0 50%">Résumer:</span>
<span class="t" style="font:bold 9px/9px 'DejaVu Sans', 'Liberation Sans', sans-serif;color:#27476B;top:797.69px;left:109.27px;transform:scaleX(1.0909);transform-origin:0 50%">25</span>
<span class="t" style="font:normal 9px/9px 'DejaVu Sans', 'Liberation Sans', sans-serif;color:#27476B;top:797.69px;left:126.27px;transform:scaleX(1.2509);transform-origin:0 50%">positions ouvertes,</span>
<span class="t" style="font:bold 9px/9px 'DejaVu Sans', 'Liberation Sans', sans-serif;color:#27476B;top:797.69px;left:236.67px;transform:scaleX(1.1148);transform-origin:0 50%">25</span>
<span class="t" style="font:normal 9px/9px 'DejaVu Sans', 'Liberation Sans', sans-serif;color:#27476B;top:797.69px;left:254.57px;transform:scaleX(1.1554);transform-origin:0 50%">Micro lot(s),</span>
<span class="t" style="font:bold 9px/9px 'DejaVu Sans', 'Liberation Sans', sans-serif;color:#27476B;top:797.69px;left:324.67px;transform:scaleX(1.1820);transform-origin:0 50%">-4565.3</span>
<span class="t" style="font:normal 9px/9px 'DejaVu Sans', 'Liberation Sans', sans-serif;color:#27476B;top:797.69px;left:373.07px;transform:scaleX(1.2786);transform-origin:0 50%">pips,</span>
<span class="t" style="font:bold 9px/9px 'DejaVu Sans', 'Liberation Sans', sans-serif;color:#27476B;top:797.69px;left:403.97px;transform:scaleX(1.1461);transform-origin:0 50%">-€406.26</span>
<span class="t" style="font:bold 11.5px/11.5px 'Liberation Sans', sans-serif;color:#1F3A5C;top:793.47px;left:486.03px;transform:scaleX(1.0188);transform-origin:50% 50%">Fermer toute position ouverte</span>
</div></body></html>
